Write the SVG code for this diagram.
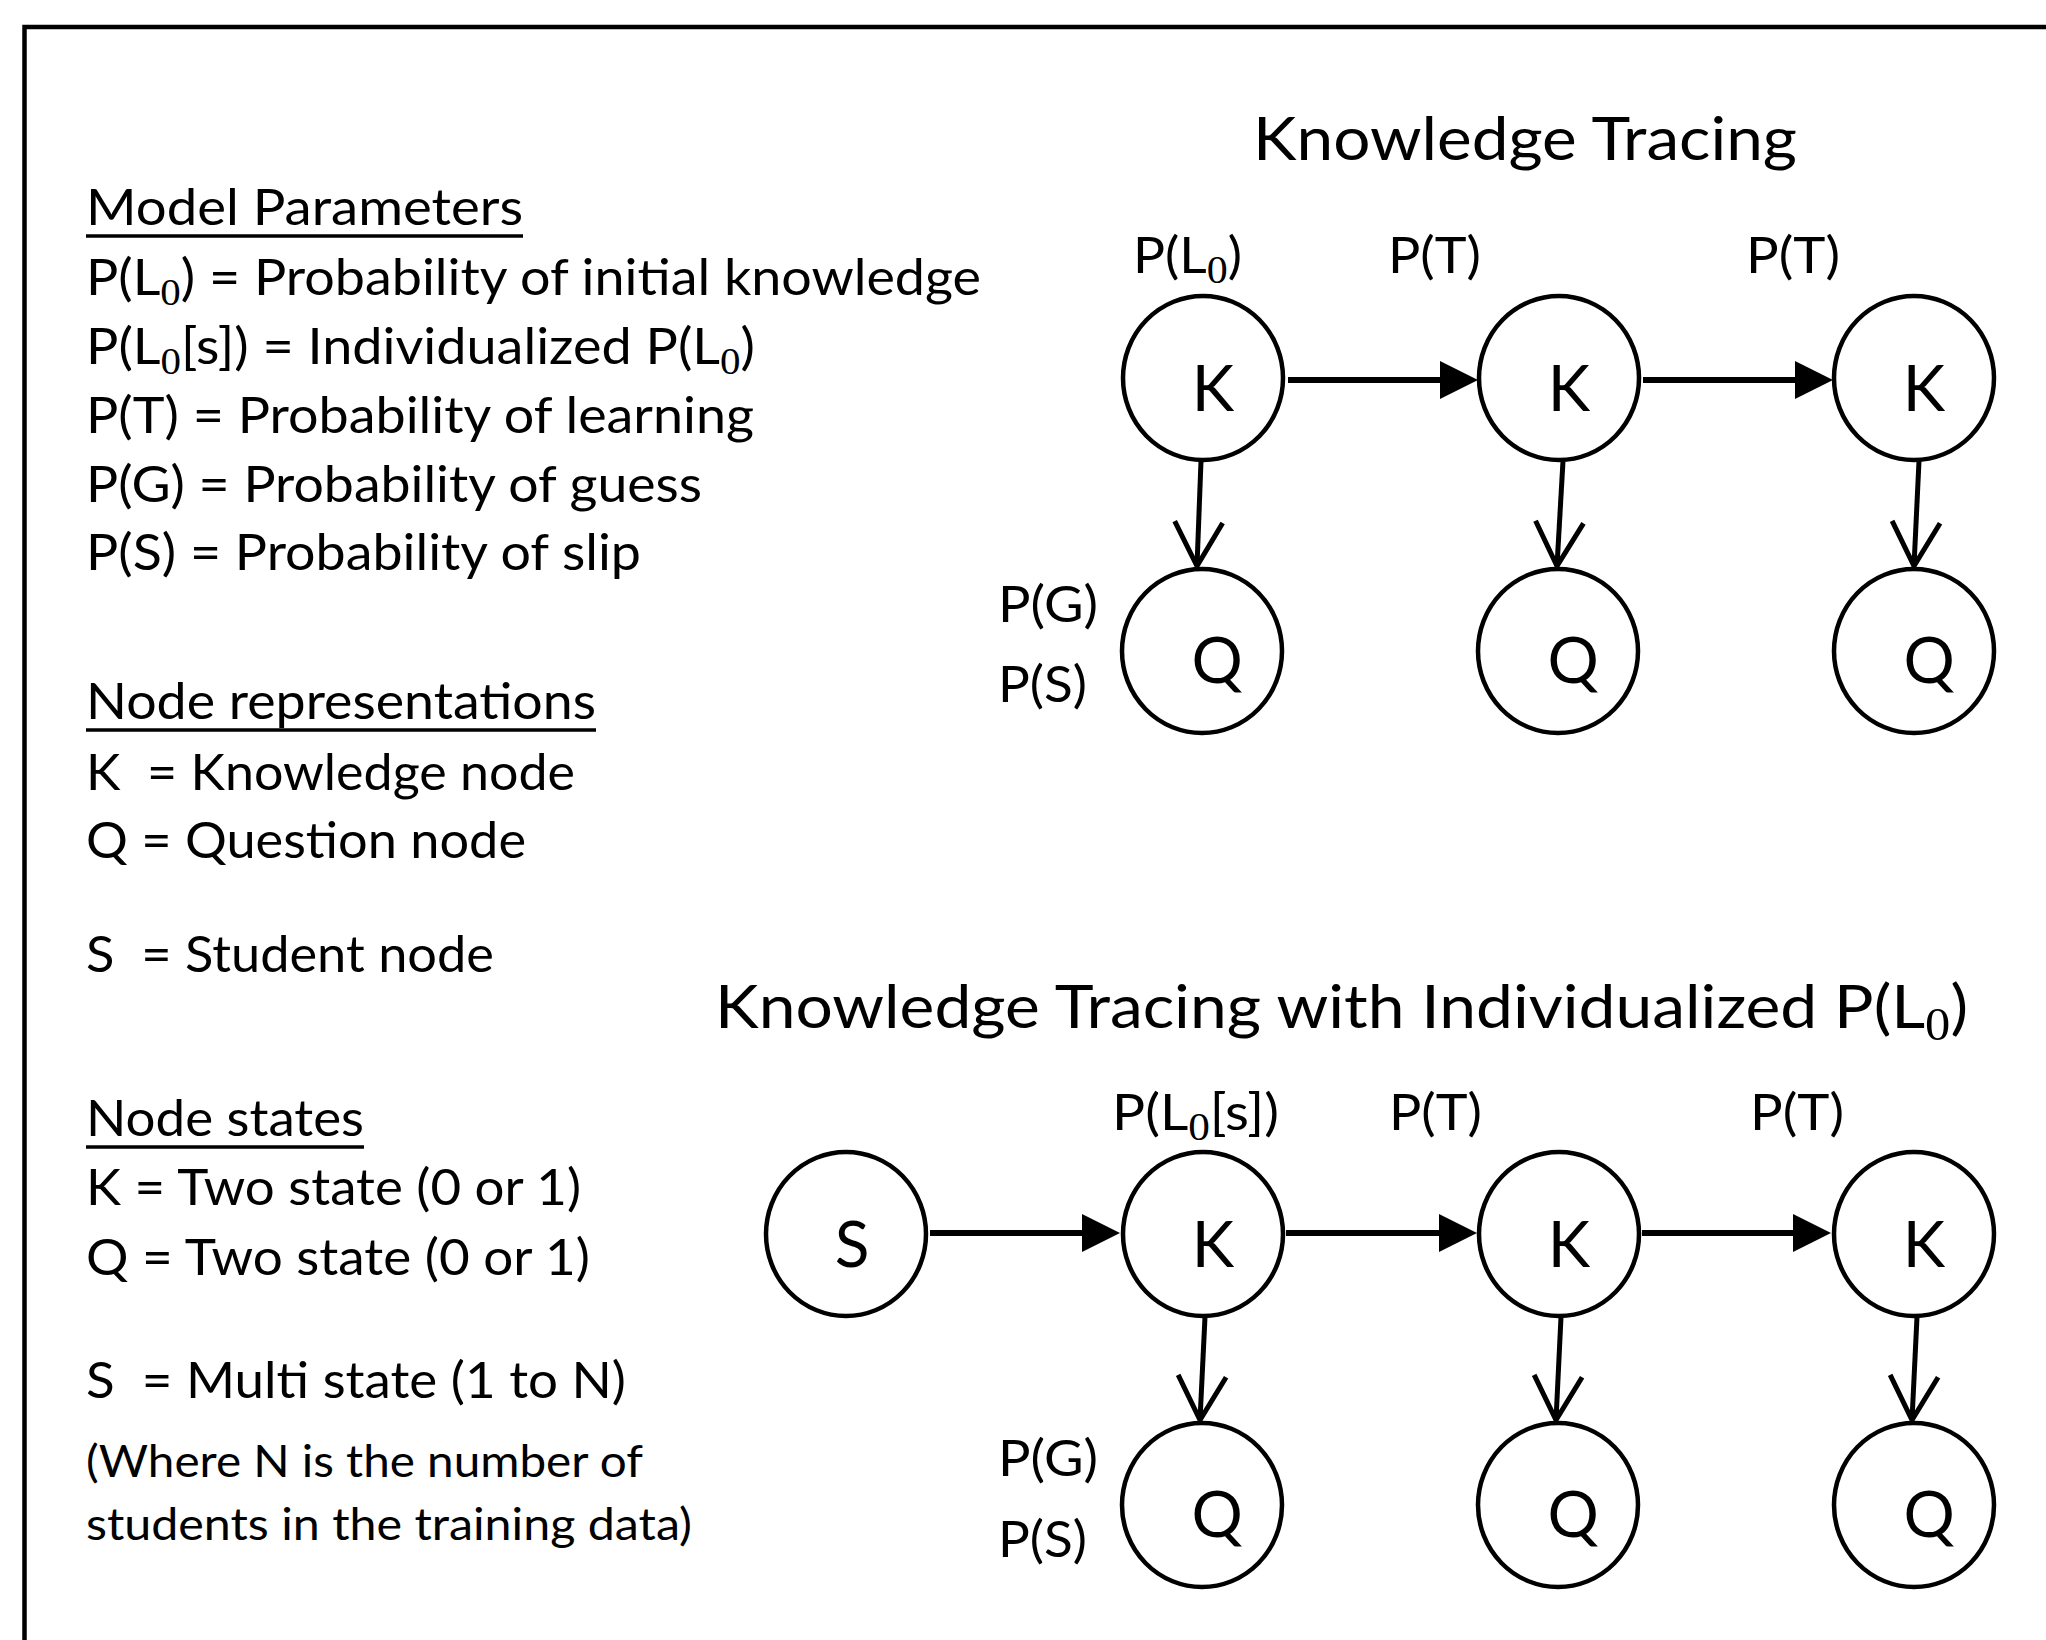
<svg xmlns="http://www.w3.org/2000/svg" width="2046" height="1640" viewBox="0 0 2046 1640">
<style>
.t{font-family:Lato,"Liberation Sans",sans-serif;fill:#000}
.left{font-size:50px}
.small{font-size:45px}
.title{font-size:60px}
.lbl{font-size:51px}
.nd{font-size:64px;text-anchor:middle}
.sub{font-family:"Liberation Serif",serif}
.c{fill:#fff;stroke:#000;stroke-width:4.5}
.h{stroke:#000;stroke-width:6;fill:none}
.v{stroke:#000;stroke-width:5;fill:none}
.ul{stroke:#000;stroke-width:3.5}
</style>
<defs>
<marker id="tri" markerUnits="userSpaceOnUse" viewBox="0 0 38 38" markerWidth="38" markerHeight="38" refX="28" refY="19" orient="auto"><path d="M0,0 L38,19 L0,38 z" fill="#000"/></marker>
<marker id="vee" markerUnits="userSpaceOnUse" viewBox="0 0 52 56" markerWidth="52" markerHeight="56" refX="47" refY="28" orient="auto"><path d="M3,4 L47,28 L3,52" fill="none" stroke="#000" stroke-width="5" stroke-linejoin="miter"/></marker>
</defs>
<rect x="24.5" y="27" width="2100" height="1700" fill="none" stroke="#000" stroke-width="4.5"/>

<g id="legend" class="t" lengthAdjust="spacingAndGlyphs">
<text class="left" x="86" y="225" textLength="437" lengthAdjust="spacingAndGlyphs">Model Parameters</text>
<line class="ul" x1="86" y1="236" x2="523" y2="236"/>
<text class="left" x="86" y="295" textLength="895" lengthAdjust="spacingAndGlyphs">P(L<tspan class="sub" font-size="38" dy="10">0</tspan><tspan dy="-10">) = Probability of initial knowledge</tspan></text>
<text class="left" x="86" y="364" textLength="669" lengthAdjust="spacingAndGlyphs">P(L<tspan class="sub" font-size="38" dy="10">0</tspan><tspan dy="-10">[s]) = Individualized P(L</tspan><tspan class="sub" font-size="38" dy="10">0</tspan><tspan dy="-10">)</tspan></text>
<text class="left" x="86" y="433" textLength="668" lengthAdjust="spacingAndGlyphs">P(T) = Probability of learning</text>
<text class="left" x="86" y="502" textLength="616" lengthAdjust="spacingAndGlyphs">P(G) = Probability of guess</text>
<text class="left" x="86" y="570" textLength="555" lengthAdjust="spacingAndGlyphs">P(S) = Probability of slip</text>
<text class="left" x="86" y="719" textLength="510" lengthAdjust="spacingAndGlyphs">Node representations</text>
<line class="ul" x1="86" y1="730" x2="596" y2="730"/>
<text class="left" x="86" y="790" textLength="489" lengthAdjust="spacingAndGlyphs">K&#160; = Knowledge node</text>
<text class="left" x="86" y="858" textLength="440" lengthAdjust="spacingAndGlyphs">Q = Question node</text>
<text class="left" x="86" y="972" textLength="408" lengthAdjust="spacingAndGlyphs">S&#160; = Student node</text>
<text class="left" x="86" y="1136" textLength="278" lengthAdjust="spacingAndGlyphs">Node states</text>
<line class="ul" x1="86" y1="1147" x2="364" y2="1147"/>
<text class="left" x="86" y="1205" textLength="495" lengthAdjust="spacingAndGlyphs">K = Two state (0 or 1)</text>
<text class="left" x="86" y="1275" textLength="504" lengthAdjust="spacingAndGlyphs">Q = Two state (0 or 1)</text>
<text class="left" x="86" y="1398" textLength="540" lengthAdjust="spacingAndGlyphs">S&#160; = Multi state (1 to N)</text>
<text class="small" x="86" y="1477" textLength="557" lengthAdjust="spacingAndGlyphs">(Where N is the number of</text>
<text class="small" x="86" y="1540" textLength="606" lengthAdjust="spacingAndGlyphs">students in the training data)</text>
</g>

<g id="titles" class="t">
<text class="title" x="1253" y="160" textLength="544" lengthAdjust="spacingAndGlyphs">Knowledge Tracing</text>
<text class="title" x="715" y="1028" textLength="1253" lengthAdjust="spacingAndGlyphs">Knowledge Tracing with Individualized P(L<tspan class="sub" font-size="46" dy="12">0</tspan><tspan dy="-12">)</tspan></text>
</g>

<g id="edge-labels" class="t lbl">
<text x="1133" y="273" textLength="109" lengthAdjust="spacingAndGlyphs">P(L<tspan class="sub" font-size="40" dy="10">0</tspan><tspan dy="-10">)</tspan></text>
<text x="1388" y="273" textLength="93" lengthAdjust="spacingAndGlyphs">P(T)</text>
<text x="1746" y="273" textLength="94" lengthAdjust="spacingAndGlyphs">P(T)</text>
<text x="998" y="622" textLength="100" lengthAdjust="spacingAndGlyphs">P(G)</text>
<text x="998" y="702" textLength="89" lengthAdjust="spacingAndGlyphs">P(S)</text>
<text x="1112" y="1130" textLength="167" lengthAdjust="spacingAndGlyphs">P(L<tspan class="sub" font-size="40" dy="10">0</tspan><tspan dy="-10">[s])</tspan></text>
<text x="1389" y="1130" textLength="93" lengthAdjust="spacingAndGlyphs">P(T)</text>
<text x="1750" y="1130" textLength="94" lengthAdjust="spacingAndGlyphs">P(T)</text>
<text x="998" y="1476" textLength="100" lengthAdjust="spacingAndGlyphs">P(G)</text>
<text x="998" y="1557" textLength="89" lengthAdjust="spacingAndGlyphs">P(S)</text>
</g>

<g id="connectors">
<line class="h" x1="1288" y1="380" x2="1468" y2="380" marker-end="url(#tri)"/>
<line class="h" x1="1643" y1="380" x2="1823" y2="380" marker-end="url(#tri)"/>
<line class="v" x1="1201" y1="461" x2="1197" y2="566" marker-end="url(#vee)"/>
<line class="v" x1="1563" y1="461" x2="1557" y2="566" marker-end="url(#vee)"/>
<line class="v" x1="1919" y1="461" x2="1914" y2="566" marker-end="url(#vee)"/>
<line class="h" x1="930" y1="1233" x2="1110" y2="1233" marker-end="url(#tri)"/>
<line class="h" x1="1286" y1="1233" x2="1467" y2="1233" marker-end="url(#tri)"/>
<line class="h" x1="1642" y1="1233" x2="1821" y2="1233" marker-end="url(#tri)"/>
<line class="v" x1="1205" y1="1317" x2="1200" y2="1420" marker-end="url(#vee)"/>
<line class="v" x1="1561" y1="1317" x2="1556" y2="1420" marker-end="url(#vee)"/>
<line class="v" x1="1917" y1="1317" x2="1912" y2="1420" marker-end="url(#vee)"/>
</g>

<g id="kt-k1"><ellipse class="c" cx="1203" cy="378" rx="80" ry="82"/><text class="t nd" x="1213" y="411">K</text></g>
<g id="kt-k2"><ellipse class="c" cx="1559" cy="378" rx="80" ry="82"/><text class="t nd" x="1569" y="411">K</text></g>
<g id="kt-k3"><ellipse class="c" cx="1914" cy="378" rx="80" ry="82"/><text class="t nd" x="1924" y="411">K</text></g>
<g id="kt-q1"><ellipse class="c" cx="1202" cy="651" rx="80" ry="82"/><text class="t nd" x="1217" y="683">Q</text></g>
<g id="kt-q2"><ellipse class="c" cx="1558" cy="651" rx="80" ry="82"/><text class="t nd" x="1573" y="683">Q</text></g>
<g id="kt-q3"><ellipse class="c" cx="1914" cy="651" rx="80" ry="82"/><text class="t nd" x="1929" y="683">Q</text></g>

<g id="ktp-s"><ellipse class="c" cx="846" cy="1234" rx="80" ry="82"/><text class="t nd" x="852" y="1267">S</text></g>
<g id="ktp-k1"><ellipse class="c" cx="1203" cy="1234" rx="80" ry="82"/><text class="t nd" x="1213" y="1267">K</text></g>
<g id="ktp-k2"><ellipse class="c" cx="1559" cy="1234" rx="80" ry="82"/><text class="t nd" x="1569" y="1267">K</text></g>
<g id="ktp-k3"><ellipse class="c" cx="1914" cy="1234" rx="80" ry="82"/><text class="t nd" x="1924" y="1267">K</text></g>
<g id="ktp-q1"><ellipse class="c" cx="1202" cy="1505" rx="80" ry="82"/><text class="t nd" x="1217" y="1537">Q</text></g>
<g id="ktp-q2"><ellipse class="c" cx="1558" cy="1505" rx="80" ry="82"/><text class="t nd" x="1573" y="1537">Q</text></g>
<g id="ktp-q3"><ellipse class="c" cx="1914" cy="1505" rx="80" ry="82"/><text class="t nd" x="1929" y="1537">Q</text></g>
</svg>
